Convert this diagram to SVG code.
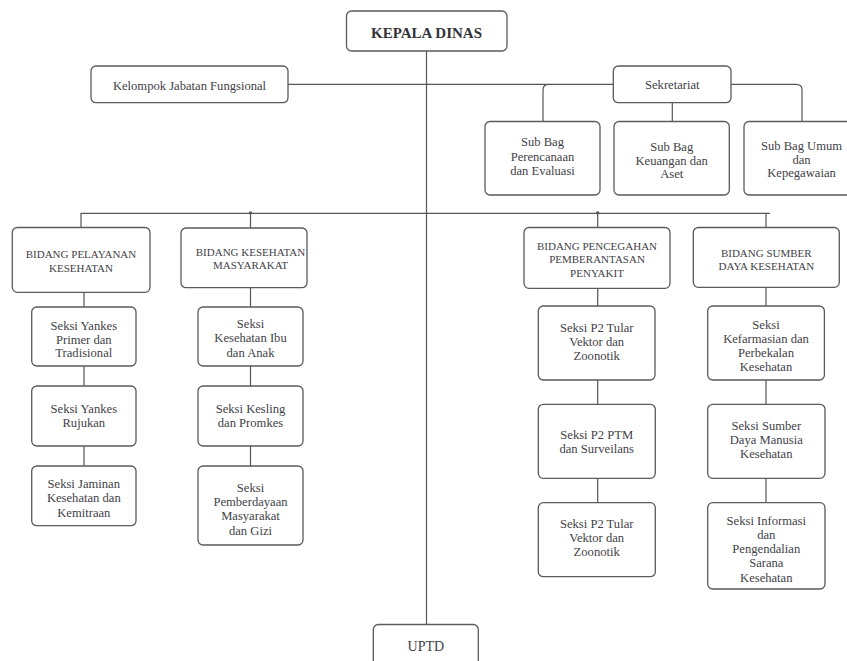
<svg xmlns="http://www.w3.org/2000/svg" width="847" height="661" viewBox="0 0 847 661">
<style>
.b{fill:#fff;stroke:#5a5a5f;stroke-width:1.3}
.t{font-family:"Liberation Serif",serif;font-size:12.6px;fill:#3f3f48;text-anchor:middle;dominant-baseline:central}
.c{font-size:11px}
.k{font-size:15px;font-weight:bold;fill:#333338}
.l{fill:none;stroke:#55555a;stroke-width:1.2}
.d{fill:#55555a}
</style>
<rect width="847" height="661" fill="#fff"/>
<g id="connectors">
<path class="l" d="M426.5,51 V624.5"/>
<path class="l" d="M288,84.3 H613"/>
<path class="l" d="M543,121.5 V90 Q543,84.3 549,84.3"/>
<path class="l" d="M672.3,102.7 V121.5"/>
<path class="l" d="M731,84.3 H796 Q802,84.3 802,90 V121.5"/>
<path class="l" d="M81,227.5 V213.3 H770"/>
<path class="l" d="M250.5,213.3 V228"/>
<path class="l" d="M597.7,213.3 V227.5"/>
<path class="l" d="M766,213.3 V227.5"/>
<circle class="d" cx="250.5" cy="212.8" r="1.6"/>
<circle class="d" cx="597.7" cy="212.8" r="1.6"/>
<path class="l" d="M84,292.3 V307 M84,366 V386 M84,446 V466"/>
<path class="l" d="M250.5,287.7 V307 M250.5,366 V386 M250.5,446 V466"/>
<path class="l" d="M597.7,288.3 V306 M597.7,380 V404.3 M597.7,478.3 V502.7"/>
<path class="l" d="M766,287.3 V306 M766,380 V404.3 M766,478.3 V502.7"/>
</g>
<g id="kepala"><rect class="b" x="346.5" y="11" width="160.5" height="40" rx="5"/><text class="t k" x="426.5" y="33">KEPALA DINAS</text></g>
<g id="kelompok"><rect class="b" x="91" y="66" width="197" height="36.7" rx="5"/><text class="t" x="189.5" y="85.5">Kelompok Jabatan Fungsional</text></g>
<g id="sekretariat"><rect class="b" x="613.3" y="66" width="117.7" height="36.7" rx="5"/><text class="t" x="672.3" y="84.5">Sekretariat</text></g>
<g id="subbag1"><rect class="b" x="485" y="121.5" width="115" height="73.5" rx="5"/><text class="t" x="542.5" y="142">Sub Bag</text><text class="t" x="542.5" y="157">Perencanaan</text><text class="t" x="542.5" y="171">dan Evaluasi</text></g>
<g id="subbag2"><rect class="b" x="614" y="121.5" width="115.3" height="73.5" rx="5"/><text class="t" x="671.7" y="147">Sub Bag</text><text class="t" x="671.7" y="160.5">Keuangan dan</text><text class="t" x="671.7" y="174">Aset</text></g>
<g id="subbag3"><rect class="b" x="744" y="121.5" width="115" height="73.5" rx="5"/><text class="t" x="801.5" y="146">Sub Bag Umum</text><text class="t" x="801.5" y="159.5">dan</text><text class="t" x="801.5" y="173">Kepegawaian</text></g>
<g id="bidang1"><rect class="b" x="12.3" y="227.5" width="137.7" height="64.8" rx="5"/><text class="t c" x="81" y="254.3">BIDANG PELAYANAN</text><text class="t c" x="81" y="268.3">KESEHATAN</text></g>
<g id="bidang2"><rect class="b" x="181" y="228" width="126" height="59.7" rx="5"/><text class="t c" x="250.5" y="252">BIDANG KESEHATAN</text><text class="t c" x="250.5" y="265">MASYARAKAT</text></g>
<g id="bidang3"><rect class="b" x="524" y="227.5" width="146" height="60.8" rx="5"/><text class="t c" x="597" y="245.7">BIDANG PENCEGAHAN</text><text class="t c" x="597" y="259.3">PEMBERANTASAN</text><text class="t c" x="597" y="273.3">PENYAKIT</text></g>
<g id="bidang4"><rect class="b" x="693.3" y="227.5" width="146" height="59.8" rx="5"/><text class="t c" x="766.3" y="252.7">BIDANG SUMBER</text><text class="t c" x="766.3" y="266">DAYA KESEHATAN</text></g>
<g id="s11"><rect class="b" x="31.7" y="307" width="104.3" height="59" rx="5"/><text class="t" x="83.8" y="326">Seksi Yankes</text><text class="t" x="83.8" y="339.5">Primer dan</text><text class="t" x="83.8" y="352.7">Tradisional</text></g>
<g id="s12"><rect class="b" x="31.7" y="386" width="104.3" height="60" rx="5"/><text class="t" x="83.8" y="409">Seksi Yankes</text><text class="t" x="83.8" y="422.7">Rujukan</text></g>
<g id="s13"><rect class="b" x="31.7" y="466" width="104.3" height="59.7" rx="5"/><text class="t" x="83.8" y="484.3">Seksi Jaminan</text><text class="t" x="83.8" y="498">Kesehatan dan</text><text class="t" x="83.8" y="512.7">Kemitraan</text></g>
<g id="s21"><rect class="b" x="198" y="307" width="105" height="59" rx="5"/><text class="t" x="250.5" y="324.3">Seksi</text><text class="t" x="250.5" y="337.7">Kesehatan Ibu</text><text class="t" x="250.5" y="352.7">dan Anak</text></g>
<g id="s22"><rect class="b" x="198" y="386" width="105" height="60" rx="5"/><text class="t" x="250.5" y="409">Seksi Kesling</text><text class="t" x="250.5" y="422.7">dan Promkes</text></g>
<g id="s23"><rect class="b" x="198" y="466" width="105" height="79" rx="5"/><text class="t" x="250.5" y="487.7">Seksi</text><text class="t" x="250.5" y="502.3">Pemberdayaan</text><text class="t" x="250.5" y="516">Masyarakat</text><text class="t" x="250.5" y="530.7">dan Gizi</text></g>
<g id="s31"><rect class="b" x="538.3" y="306" width="116.7" height="74" rx="5"/><text class="t" x="596.7" y="327.7">Seksi P2 Tular</text><text class="t" x="596.7" y="341.7">Vektor dan</text><text class="t" x="596.7" y="356">Zoonotik</text></g>
<g id="s32"><rect class="b" x="538.3" y="404.3" width="117" height="74" rx="5"/><text class="t" x="596.7" y="435">Seksi P2 PTM</text><text class="t" x="596.7" y="449.3">dan Surveilans</text></g>
<g id="s33"><rect class="b" x="538.3" y="502.7" width="117" height="74" rx="5"/><text class="t" x="596.7" y="524.3">Seksi P2 Tular</text><text class="t" x="596.7" y="537.7">Vektor dan</text><text class="t" x="596.7" y="552.3">Zoonotik</text></g>
<g id="s41"><rect class="b" x="707.7" y="306" width="116.7" height="74" rx="5"/><text class="t" x="766" y="325">Seksi</text><text class="t" x="766" y="339.3">Kefarmasian dan</text><text class="t" x="766" y="353.3">Perbekalan</text><text class="t" x="766" y="367.3">Kesehatan</text></g>
<g id="s42"><rect class="b" x="707.7" y="404.3" width="117.3" height="74" rx="5"/><text class="t" x="766.3" y="425.7">Seksi Sumber</text><text class="t" x="766.3" y="440">Daya Manusia</text><text class="t" x="766.3" y="454">Kesehatan</text></g>
<g id="s43"><rect class="b" x="707.7" y="502.7" width="117.3" height="86.3" rx="5"/><text class="t" x="766.3" y="520.7">Seksi Informasi</text><text class="t" x="766.3" y="535">dan</text><text class="t" x="766.3" y="549.3">Pengendalian</text><text class="t" x="766.3" y="563.3">Sarana</text><text class="t" x="766.3" y="577.7">Kesehatan</text></g>
<g id="uptd"><rect class="b" x="373.3" y="624.5" width="105" height="50" rx="5"/><text class="t" x="425.8" y="646.7" style="font-size:14px">UPTD</text></g>
</svg>
